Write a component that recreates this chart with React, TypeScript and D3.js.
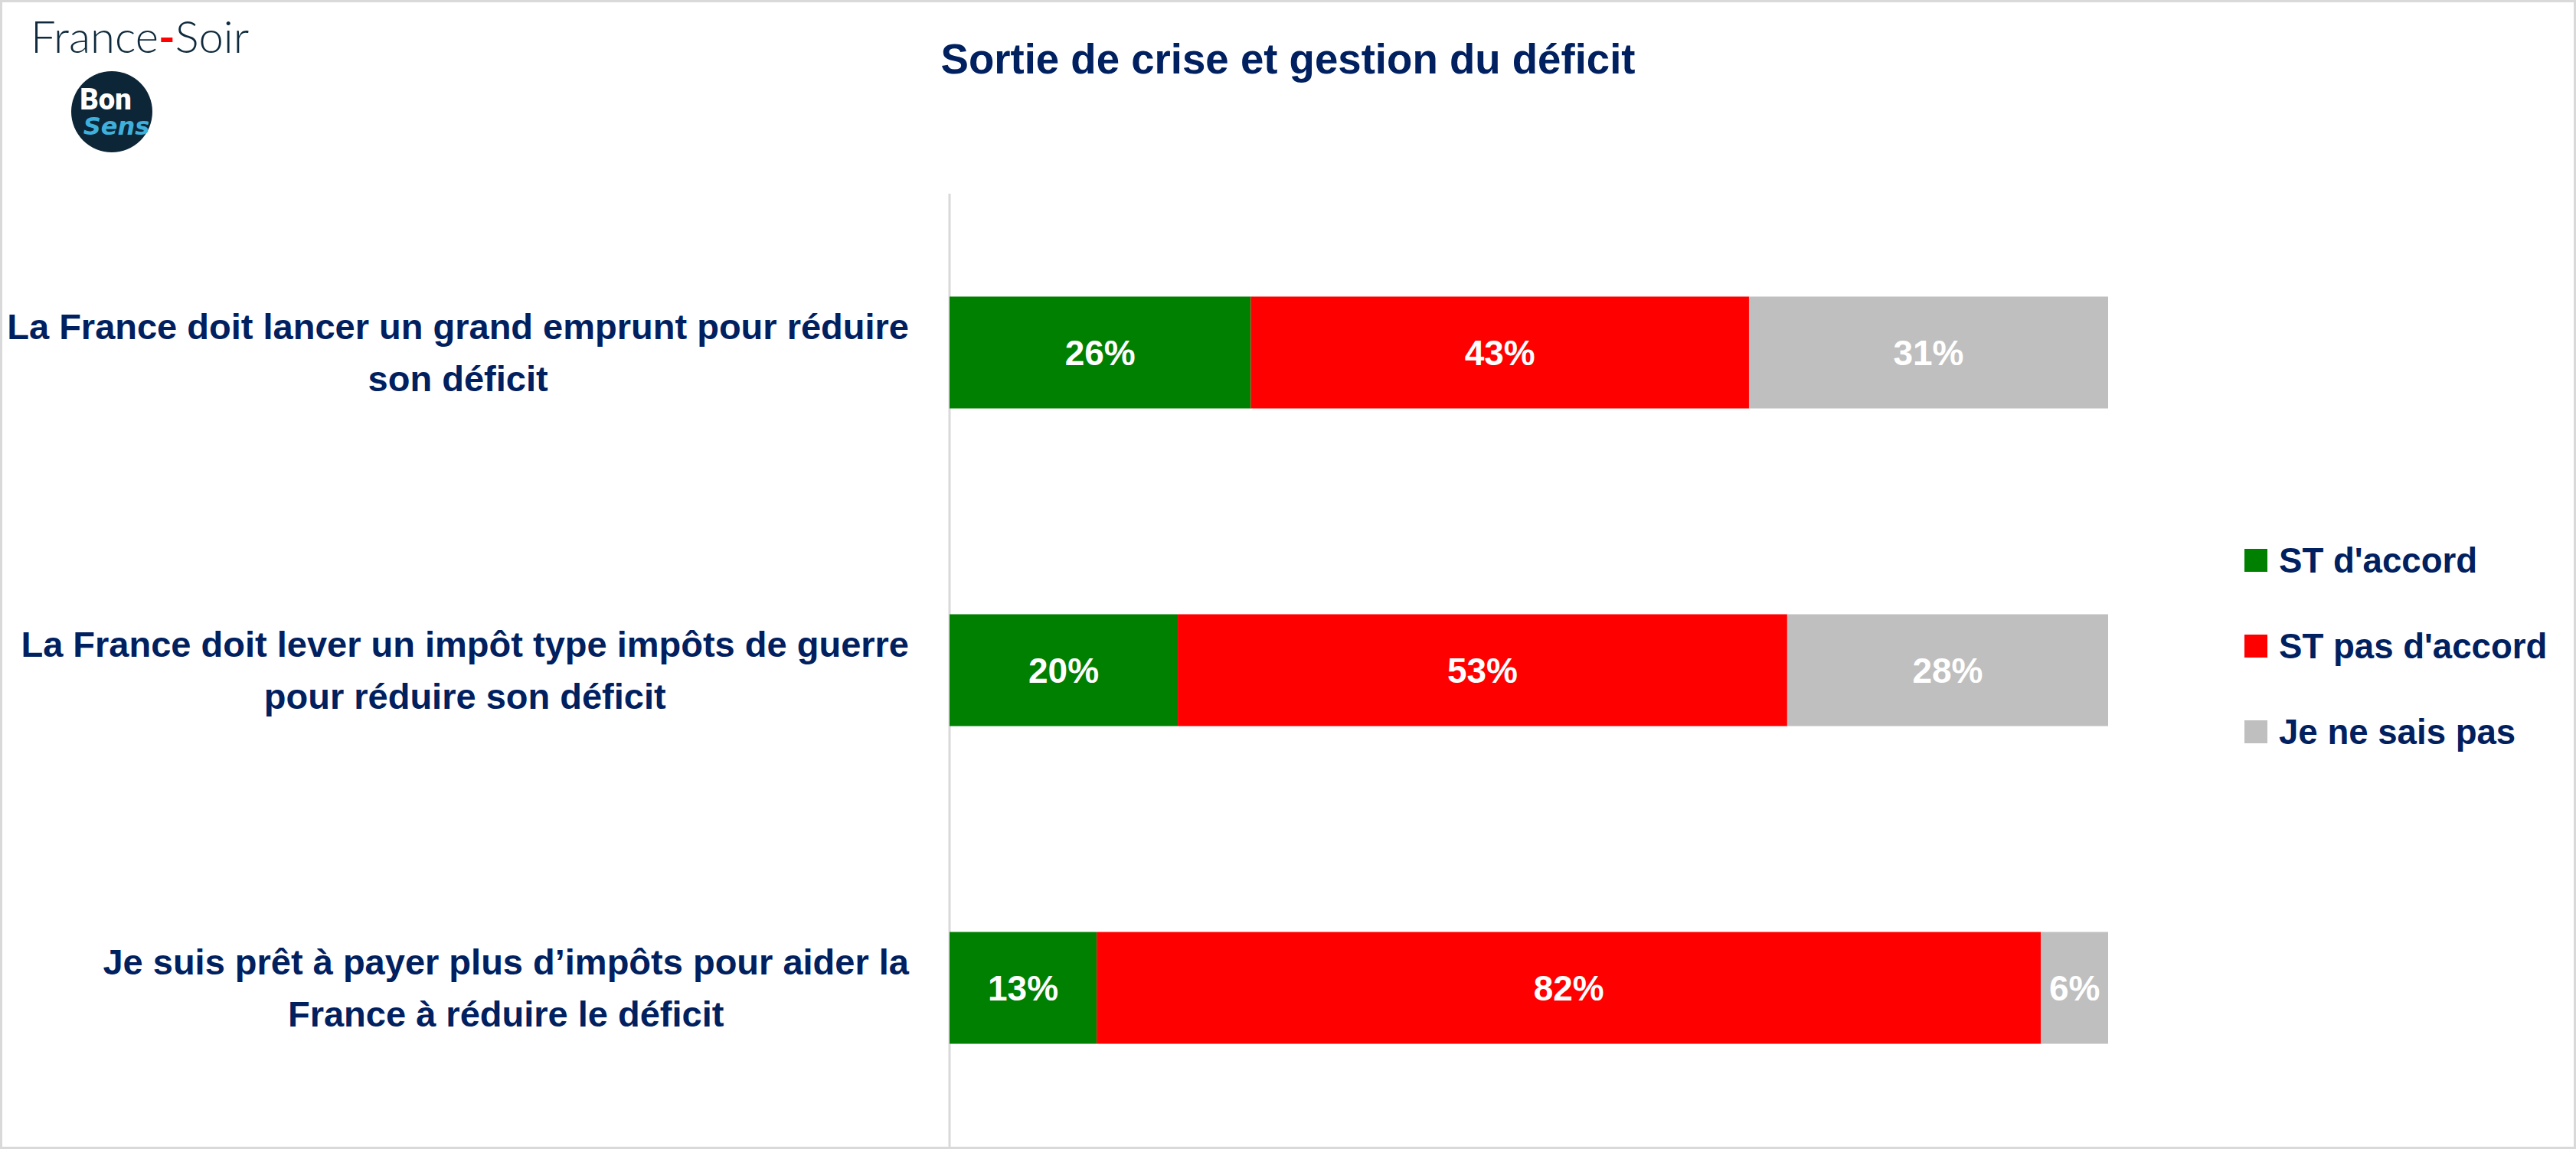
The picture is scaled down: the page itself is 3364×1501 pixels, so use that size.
import React, { useEffect, useRef } from "react";
import * as d3 from "d3";

const W = 3364;
const H = 1501;

const categories = [
  "La France doit lancer un grand emprunt pour réduire\nson déficit",
  "La France doit lever un impôt type impôts de guerre\npour réduire son déficit",
  "Je suis prêt à payer plus d’impôts pour aider la\nFrance à réduire le déficit",
];
const seriesNames = ["ST d'accord", "ST pas d'accord", "Je ne sais pas"];
const seriesColors = ["#008000", "#FF0000", "#BFBFBF"];
const accord = [26, 19.7, 12.7];
const pasAccord = [43, 52.6, 81.5];
const nsp = [31, 27.7, 5.8];
const xTicks = [0, 100];
const title = "Sortie de crise et gestion du déficit";

const NAVY = "#002060";
const FONT = "'Liberation Sans', Arial, sans-serif";

export default function App() {
  const ref = useRef<SVGSVGElement>(null);

  useEffect(() => {
    const svg = d3.select(ref.current);
    svg.selectAll("*").remove();

    svg.append("rect").attr("x", 0).attr("y", 0).attr("width", W).attr("height", H).attr("fill", "#fff");
    svg.append("rect").attr("x", 1.5).attr("y", 1.5).attr("width", W - 3).attr("height", H - 3)
      .attr("fill", "none").attr("stroke", "#D9D9D9").attr("stroke-width", 3);

    // Logo
    const logo = svg.append("text").attr("x", 40).attr("y", 69)
      .attr("font-family", "Lato, 'Open Sans', sans-serif").attr("font-weight", 300)
      .attr("font-size", 58).attr("fill", "#0E2A3C");
    logo.append("tspan").text("France");
    logo.append("tspan").attr("fill", "#FF0000").attr("font-weight", 700).text("-");
    logo.append("tspan").text("Soir");
    svg.append("circle").attr("cx", 146).attr("cy", 146).attr("r", 53).attr("fill", "#0C2537");
    svg.append("text").attr("x", 138).attr("y", 143).attr("text-anchor", "middle")
      .attr("font-family", "Roboto, sans-serif").attr("font-weight", 900).attr("font-size", 38)
      .attr("fill", "#fff").text("Bon");
    svg.append("text").attr("x", 152).attr("y", 176).attr("text-anchor", "middle")
      .attr("font-family", "'DejaVu Sans', sans-serif").attr("font-style", "italic").attr("font-weight", 700)
      .attr("font-size", 32).attr("fill", "#3FB0DC").text("Sens");

    // Title
    svg.append("text").attr("x", 1682).attr("y", 77).attr("dy", "0.35em").attr("text-anchor", "middle")
      .attr("font-family", FONT).attr("font-weight", 700).attr("font-size", 54.6).attr("fill", NAVY)
      .text(title);

    // Scales
    const left = 1240, right = 2753, top = 253, bottom = 1498;
    const x = d3.scaleLinear().domain([xTicks[0], xTicks[1]]).range([left, right]);
    const y = d3.scaleBand<number>().domain(categories.map((_, i) => i)).range([top, bottom])
      .paddingInner(0.648).paddingOuter(0.324);

    svg.append("line").attr("x1", left).attr("x2", left).attr("y1", top).attr("y2", bottom)
      .attr("stroke", "#D9D9D9").attr("stroke-width", 3);

    const series = [accord, pasAccord, nsp];
    const rows = categories.map((c, i) => {
      const o: any = { i };
      seriesNames.forEach((s, k) => (o[s] = series[k][i]));
      return o;
    });
    const stacked = d3.stack<any>().keys(seriesNames)(rows);

    stacked.forEach((layer, k) => {
      const g = svg.append("g");
      layer.forEach((d, i) => {
        g.append("rect").attr("x", x(d[0])).attr("y", y(i)!).attr("width", x(d[1]) - x(d[0]))
          .attr("height", y.bandwidth()).attr("fill", seriesColors[k]);
        g.append("text").attr("x", (x(d[0]) + x(d[1])) / 2).attr("y", y(i)! + y.bandwidth() / 2)
          .attr("dy", "0.35em").attr("text-anchor", "middle").attr("font-family", FONT)
          .attr("font-weight", 700).attr("font-size", 46).attr("fill", "#fff")
          .text(Math.round(d[1] - d[0]) + "%");
      });
    });

    // Category labels: centered lines, block right-aligned
    const labelRight = 1187;
    categories.forEach((c, i) => {
      const lines = c.split("\n");
      const cy = y(i)! + y.bandwidth() / 2;
      const t = svg.append("text").attr("font-family", FONT).attr("font-weight", 700)
        .attr("font-size", 47).attr("fill", NAVY).attr("text-anchor", "middle");
      const spans = lines.map((l, j) =>
        t.append("tspan").attr("y", cy + (j - (lines.length - 1) / 2) * 68).attr("dy", "0.35em").text(l)
      );
      let maxW = 0;
      spans.forEach((s) => { maxW = Math.max(maxW, (s.node() as SVGTSpanElement).getComputedTextLength()); });
      spans.forEach((s) => s.attr("x", labelRight - maxW / 2));
    });

    // Legend
    seriesNames.forEach((s, k) => {
      const cy = 732 + k * 112;
      svg.append("rect").attr("x", 2931).attr("y", cy - 15).attr("width", 30).attr("height", 30)
        .attr("fill", seriesColors[k]);
      svg.append("text").attr("x", 2976).attr("y", cy).attr("dy", "0.35em").attr("font-family", FONT)
        .attr("font-weight", 700).attr("font-size", 45.6).attr("fill", NAVY).text(s);
    });
  }, []);

  return (
    <div style={{ position: "absolute", left: 0, top: 0 }}>
      <svg ref={ref} width={W} height={H} style={{ display: "block" }} />
    </div>
  );
}
